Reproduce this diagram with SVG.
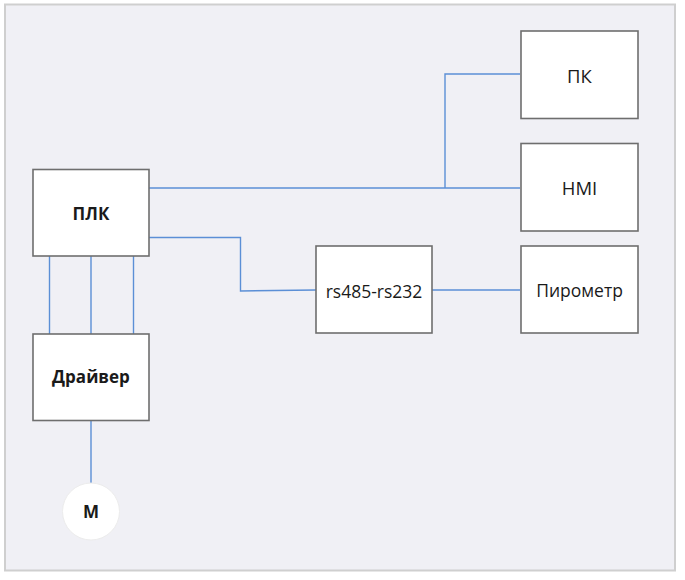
<svg xmlns="http://www.w3.org/2000/svg" width="685" height="580" viewBox="0 0 685 580">
<defs>
<style>
.box{fill:#ffffff;stroke:#6e6e6e;stroke-width:1.6}
.wire{fill:none;stroke:#5b8fd6;stroke-width:1.4}
.t{font-family:"Open Sans","Noto Sans","Liberation Sans",sans-serif;font-size:17.5px;fill:#1a1a1a;text-anchor:middle}
.b{font-weight:bold;font-size:17px}
</style>
</defs>
<rect x="0" y="0" width="685" height="580" fill="#ffffff"/>
<rect x="5" y="4.5" width="670" height="566" fill="#f0f0f5" stroke="#cfcfcf" stroke-width="2"/>
<g id="connectors">
<path class="wire" d="M149 188 H520"/>
<path class="wire" d="M445 188 V74 H520"/>
<path class="wire" d="M149 237.5 H240.5 V291 L316 290"/>
<path class="wire" d="M432 290 H520"/>
<path class="wire" d="M49.5 256 V334"/>
<path class="wire" d="M91 256 V334"/>
<path class="wire" d="M133.5 256 V334"/>
<path class="wire" d="M91 421 V483"/>
</g>
<g id="pk">
<rect class="box" x="521" y="31" width="117" height="87.5"/>
<text class="t" x="579.5" y="83" style="font-size:18.5px">ПК</text>
</g>
<g id="hmi">
<rect class="box" x="521" y="143.5" width="117" height="87.5"/>
<text class="t" x="579.5" y="195" style="font-size:18.5px">HMI</text>
</g>
<g id="plk">
<rect class="box" x="33" y="169.5" width="116" height="86.5"/>
<text class="t b" x="91" y="220">ПЛК</text>
</g>
<g id="rs485">
<rect class="box" x="316" y="246" width="116" height="87"/>
<text class="t" x="374" y="298">rs485-rs232</text>
</g>
<g id="pyrometer">
<rect class="box" x="521" y="246" width="117" height="87"/>
<text class="t" x="579.5" y="297">Пирометр</text>
</g>
<g id="driver">
<rect class="box" x="33" y="334" width="116" height="86.5"/>
<text class="t b" x="91" y="383">Драйвер</text>
</g>
<g id="motor">
<circle cx="91" cy="511.5" r="28.5" fill="#ffffff" stroke="#ececec" stroke-width="1"/>
<text class="t b" x="91" y="517.5">М</text>
</g>
</svg>
